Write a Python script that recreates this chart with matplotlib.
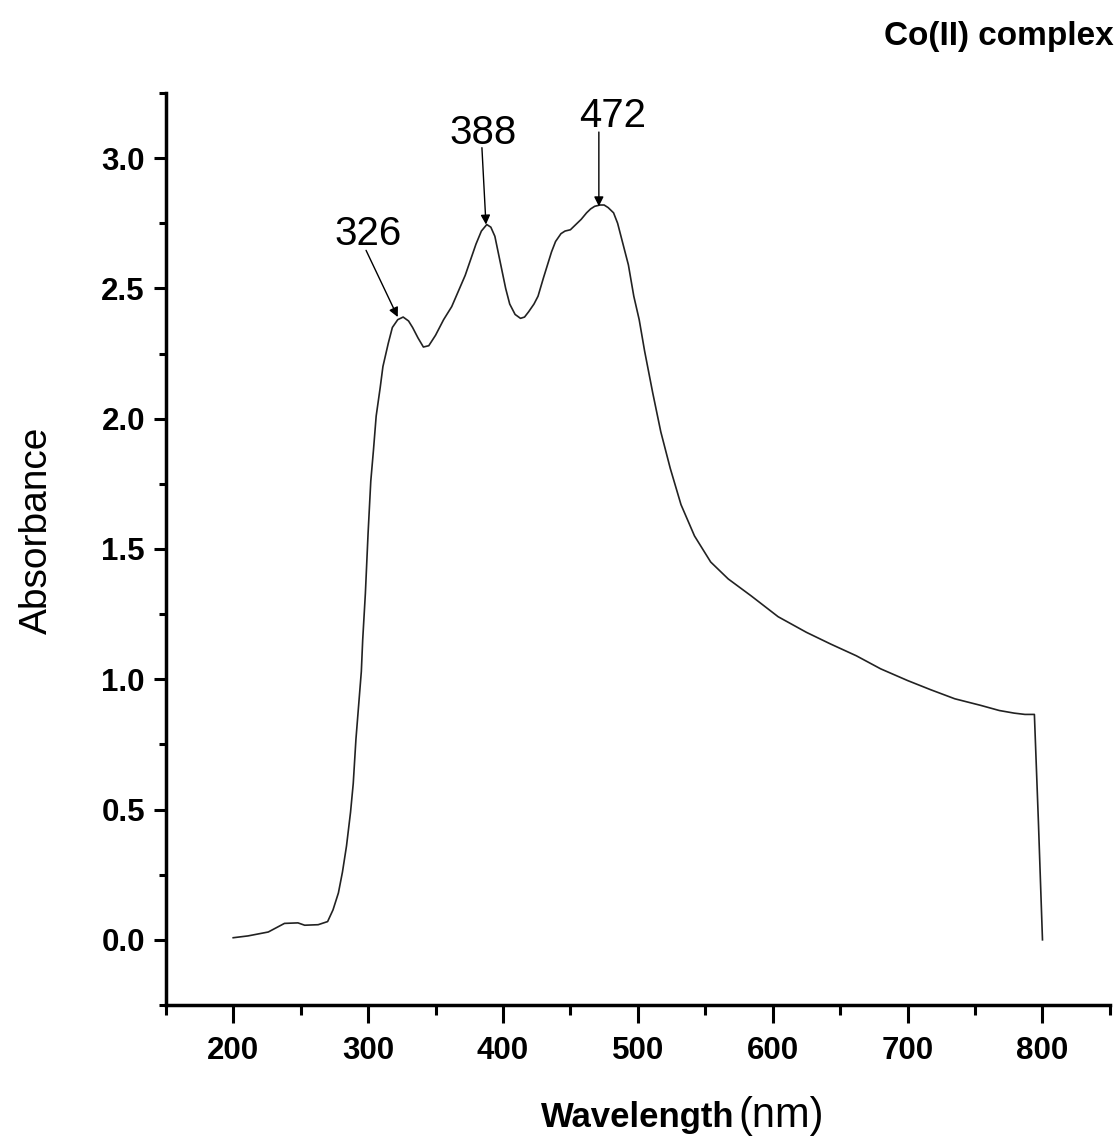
import matplotlib
matplotlib.use("Agg")
import matplotlib.pyplot as plt
from matplotlib.ticker import MultipleLocator

plt.rcParams['font.family'] = ['Liberation Sans', 'DejaVu Sans']

# UV-Vis spectrum of the Co(II) complex
wavelength = [200, 211, 226, 238, 248, 253, 263, 270, 274, 278, 281, 284, 287,
              289, 291, 293, 295, 296, 298, 300, 302, 304, 306, 309, 311, 315,
              318, 322, 326, 330, 333, 337, 341, 345, 350, 356, 362, 367, 372,
              376, 380, 384, 388, 391, 394, 398, 402, 405, 409, 413, 416, 419,
              423, 426, 430, 433, 436, 439, 443, 446, 450, 454, 458, 462, 465,
              468, 472, 475, 478, 482, 485, 489, 493, 497, 501, 505, 511, 517,
              524, 532, 542, 554, 567, 584, 604, 625, 643, 662, 680, 700, 717,
              735, 754, 768, 779, 787, 794, 797, 800]
absorbance = [0.008, 0.015, 0.03, 0.063, 0.065, 0.056, 0.058, 0.07, 0.115, 0.18,
              0.26, 0.36, 0.49, 0.60, 0.77, 0.90, 1.03, 1.15, 1.33, 1.56, 1.76,
              1.88, 2.01, 2.12, 2.20, 2.29, 2.35, 2.38, 2.39, 2.375, 2.35, 2.31,
              2.275, 2.28, 2.32, 2.38, 2.43, 2.49, 2.55, 2.61, 2.67, 2.72, 2.745,
              2.735, 2.70, 2.60, 2.50, 2.44, 2.40, 2.385, 2.39, 2.41, 2.44, 2.47,
              2.54, 2.59, 2.64, 2.68, 2.71, 2.72, 2.725, 2.745, 2.765, 2.79,
              2.805, 2.815, 2.82, 2.82, 2.81, 2.79, 2.75, 2.67, 2.59, 2.47, 2.38,
              2.26, 2.10, 1.95, 1.81, 1.67, 1.55, 1.45, 1.385, 1.32, 1.24, 1.18,
              1.135, 1.09, 1.04, 0.995, 0.96, 0.925, 0.90, 0.88, 0.87, 0.865,
              0.865, 0.45, 0.0]

peak_labels = ["326", "388", "472"]
xticks = [200, 300, 400, 500, 600, 700, 800]
yticks = [0.0, 0.5, 1.0, 1.5, 2.0, 2.5, 3.0]

fig = plt.figure(figsize=(11.2, 11.42), dpi=100)
ax = fig.add_axes([0.148, 0.120, 0.843, 0.7986])

ax.plot(wavelength, absorbance, color='#222222', lw=1.2)

ax.set_xlim(150, 850)
ax.set_ylim(-0.25, 3.25)
ax.set_xticks(xticks)
ax.set_yticks(yticks)
ax.set_xticklabels([str(t) for t in xticks])
ax.set_yticklabels(["%.1f" % t for t in yticks])
ax.xaxis.set_minor_locator(MultipleLocator(50))
ax.yaxis.set_minor_locator(MultipleLocator(0.25))

for s in ['top', 'right']:
    ax.spines[s].set_visible(False)
for s in ['left', 'bottom']:
    ax.spines[s].set_linewidth(2.5)

ax.tick_params(axis='x', which='major', length=13, width=2.2, pad=9,
               labelsize=22.5)
ax.tick_params(axis='x', which='minor', length=7, width=2.2)
ax.tick_params(axis='y', which='major', length=9, width=2.2, pad=6,
               labelsize=22.5)
ax.tick_params(axis='y', which='minor', length=5, width=2.2)
for lab in ax.get_xticklabels() + ax.get_yticklabels():
    lab.set_fontweight('bold')

# peak annotations: text position, arrow start, arrow tip
text_pos = [(300, 2.71), (385.2, 3.096), (481.5, 3.16)]
arrow_from = [(298.5, 2.646), (384.4, 3.04), (471.1, 3.10)]
arrow_to = [(322, 2.39), (387.4, 2.745), (471.1, 2.815)]
for lab, tp, af, at in zip(peak_labels, text_pos, arrow_from, arrow_to):
    ax.text(tp[0], tp[1], lab, fontsize=29, ha='center', va='center')
    ax.annotate('', xy=at, xytext=af,
                arrowprops=dict(arrowstyle='-|>', color='black', lw=1.0,
                                mutation_scale=14, shrinkA=0, shrinkB=0))

fig.text(0.033, 0.536, "Absorbance", rotation=90, fontsize=28,
         ha='center', va='center')
fig.text(0.656, 0.0131, "Wavelength", fontsize=25, fontweight='bold',
         ha='right', va='baseline')
fig.text(0.659, 0.0131, "(nm)", fontsize=30, ha='left', va='baseline')
fig.text(0.994, 0.982, "Co(II) complex", fontsize=24, fontweight='bold',
         ha='right', va='top')

fig.savefig("out.png", dpi=100)
